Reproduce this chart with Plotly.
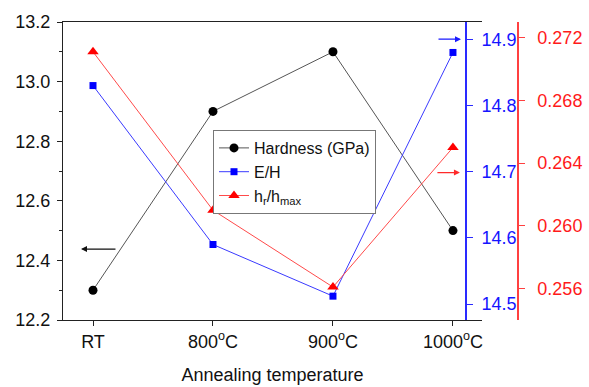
import plotly.graph_objects as go

categories = ["RT", "800<sup>o</sup>C", "900<sup>o</sup>C", "1000<sup>o</sup>C"]
hardness = [12.3, 12.9, 13.1, 12.5]
e_over_h = [14.83, 14.59, 14.512, 14.88]
hr_hmax = [0.2711, 0.2610, 0.2561, 0.2650]

xi = list(range(len(categories)))
FONT = "Liberation Sans, Arial, sans-serif"

fig = go.Figure()
fig.add_trace(go.Scatter(x=xi, y=hardness, name="Hardness (GPa)", mode="lines+markers",
                         line=dict(color="#555555", width=1),
                         marker=dict(symbol="circle", size=9, color="black")))
fig.add_trace(go.Scatter(x=xi, y=e_over_h, name="E/H", mode="lines+markers", yaxis="y2",
                         line=dict(color="#3a3aff", width=1),
                         marker=dict(symbol="square", size=7, color="#0000ff")))
fig.add_trace(go.Scatter(x=xi, y=hr_hmax, name="h<sub>r</sub>/h<sub>max</sub>", mode="lines+markers", yaxis="y3",
                         line=dict(color="#ff4a4a", width=1),
                         marker=dict(symbol="triangle-up", size=10, color="#ff0000")))

W, H = 589, 387
L, R, T, B = 63, 71, 22, 67
pw = W - L - R
xdom_end = (482 - L) / pw
blue_pos = (466 - L) / pw

fig.update_layout(
    width=W, height=H,
    margin=dict(l=L, r=R, t=T, b=B, autoexpand=False),
    paper_bgcolor="white", plot_bgcolor="white",
    font=dict(family=FONT, size=18, color="#111"),
    showlegend=True,
    legend=dict(x=(213 - L) / pw, y=1 - (130 - T) / (H - T - B), xanchor="left", yanchor="top",
                bordercolor="#777", borderwidth=1, bgcolor="white",
                font=dict(family=FONT, size=16, color="#111"), tracegroupgap=0,
                itemwidth=30),
    xaxis=dict(domain=[0, xdom_end], range=[-0.25, 3.242], tickmode="array", tickvals=xi,
               ticktext=categories, showline=True, linecolor="#222", linewidth=1.3, mirror=True,
               ticks="outside", ticklen=5, tickcolor="#222", showgrid=False, zeroline=False,
               automargin=False,
               title=dict(text="Annealing temperature", font=dict(size=18), standoff=17),
               tickfont=dict(size=18)),
    yaxis=dict(range=[12.2, 13.2], dtick=0.2, tickformat=".1f", showline=True, linecolor="#222",
               linewidth=1.3, ticks="outside", ticklen=5, tickcolor="#222", showgrid=False,
               zeroline=False, tickfont=dict(size=18), ticklabelstandoff=3, automargin=False,
               minor=dict(dtick=0.1, ticks="outside", ticklen=3, tickcolor="#222")),
    yaxis2=dict(range=[14.476, 14.926], dtick=0.1, tickformat=".1f", overlaying="y", anchor="free",
                position=blue_pos, side="right", showline=True, linecolor="#2a2aff", linewidth=2,
                ticks="outside", ticklen=6, tickcolor="#2a2aff", showgrid=False, zeroline=False,
                automargin=False,
                tickfont=dict(size=18, color="#1515ff"), ticklabelstandoff=5),
    yaxis3=dict(range=[0.254, 0.273], tickvals=[0.256, 0.260, 0.264, 0.268, 0.272], tickformat=".3f",
                overlaying="y", anchor="free", position=1.0, side="right", showline=True,
                linecolor="#ff4040", linewidth=1.5, ticks="outside", ticklen=6, tickcolor="#ff4040",
                showgrid=False, zeroline=False, tickfont=dict(size=18, color="#ff1a1a"),
                automargin=False, ticklabelstandoff=9),
)

fig.add_annotation(x=-0.1, y=12.438, ax=0.2, ay=12.438, xref="x", yref="y", axref="x", ayref="y",
                   text="", showarrow=True, arrowhead=2, arrowsize=1, arrowwidth=1.2, arrowcolor="#111")
fig.add_annotation(x=3.067, y=14.9, ax=2.867, ay=14.9, xref="x", yref="y2", axref="x", ayref="y2",
                   text="", showarrow=True, arrowhead=2, arrowsize=1, arrowwidth=1.2, arrowcolor="#1a1aff")
fig.add_annotation(x=3.058, y=0.2634, ax=2.858, ay=0.2634, xref="x", yref="y3", axref="x", ayref="y3",
                   text="", showarrow=True, arrowhead=2, arrowsize=1, arrowwidth=1.2, arrowcolor="#ff2a2a")

fig.write_html("out.html")
